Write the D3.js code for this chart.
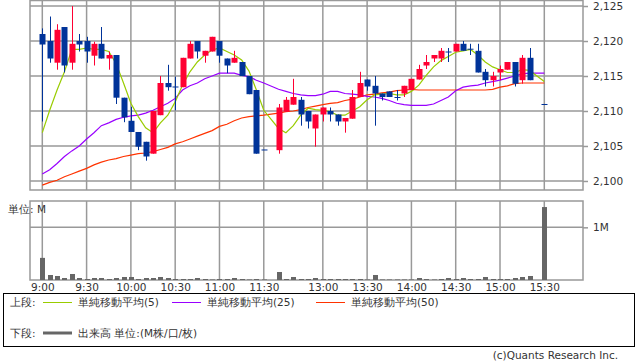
<!DOCTYPE html>
<html>
<head>
<meta charset="utf-8">
<script src="https://d3js.org/d3.v7.min.js"></script>
<style>
  body { margin: 0; background: #fff; }
  text { font-family: "DejaVu Sans", sans-serif; fill: #333; }
</style>
</head>
<body>
<script>
// 5-minute slots, with one empty slot for the lunch break
var slots = ["9:00","9:05","9:10","9:15","9:20","9:25","9:30","9:35","9:40","9:45","9:50","9:55",
  "10:00","10:05","10:10","10:15","10:20","10:25","10:30","10:35","10:40","10:45","10:50","10:55",
  "11:00","11:05","11:10","11:15","11:20","11:25","11:30","lunch",
  "12:30","12:35","12:40","12:45","12:50","12:55","13:00","13:05","13:10","13:15","13:20","13:25",
  "13:30","13:35","13:40","13:45","13:50","13:55","14:00","14:05","14:10","14:15","14:20","14:25",
  "14:30","14:35","14:40","14:45","14:50","14:55","15:00","15:05","15:10","15:15","15:20","15:25","15:30"];

var xLabels = ["9:00","9:30","10:00","10:30","11:00","11:30","13:00","13:30","14:00","14:30","15:00","15:30"];
var priceTicks = [2100, 2105, 2110, 2115, 2120, 2125];

// candles (null = no trade in slot)
var open  = [2121.0,2120.0,2116.9,2122.0,2116.9,2120.0,2120.0,2117.9,2119.6,2117.5,2118.0,2111.9,
  2108.6,2107.0,2105.6,2103.9,2109.4,2114.0,2113.5,2113.4,2117.5,2120.0,2117.9,2118.5,
  2120.0,2117.5,2116.9,2117.0,2115.0,2113.0,2104.5,null,
  2104.4,2109.9,2110.9,2111.6,2110.0,2107.5,2109.5,2110.0,2109.5,2108.5,2108.9,2112.0,
  2114.5,2113.6,2112.5,2112.8,2112.0,2112.5,2113.0,2114.5,2116.5,2117.5,2117.5,2118.5,
  2118.5,2119.6,2118.9,2118.6,2115.6,2114.4,2115.5,2115.9,2117.0,2114.4,2117.6,null,2111.0];
var high  = [2121.8,2123.5,2122.4,2122.0,2125.0,2121.0,2120.6,2119.9,2122.0,2118.5,2118.0,2111.9,
  2110.6,2107.0,2105.6,2110.0,2115.0,2116.6,2114.9,2117.6,2120.0,2120.0,2118.6,2120.6,
  2120.0,2117.5,2118.6,2117.0,2115.0,2113.0,2104.5,null,
  2111.0,2112.0,2114.6,2112.0,2110.0,2109.5,2110.5,2110.5,2109.5,2109.0,2113.0,2115.6,
  2114.5,2115.0,2112.5,2112.8,2113.0,2113.6,2114.6,2116.6,2118.0,2118.0,2119.0,2119.0,
  2119.6,2120.0,2119.6,2119.6,2116.0,2115.6,2116.5,2117.0,2117.0,2118.0,2119.0,null,2111.0];
var low   = [2108.5,2116.9,2115.9,2115.5,2115.9,2118.5,2116.9,2116.5,2117.5,2115.9,2111.0,2108.4,
  2107.0,2104.4,2102.9,2103.9,2109.4,2112.9,2110.1,2113.4,2117.5,2117.5,2116.9,2118.5,
  2116.9,2115.4,2116.9,2115.0,2112.4,2103.9,2104.5,null,
  2103.9,2109.9,2110.9,2107.9,2107.5,2104.9,2108.5,2108.5,2107.9,2106.9,2108.9,2112.0,
  2112.9,2107.9,2111.5,2112.0,2111.5,2112.0,2113.0,2114.5,2116.0,2117.0,2117.0,2117.0,
  2118.5,2118.6,2118.0,2115.5,2113.5,2113.5,2114.4,2115.9,2113.5,2113.9,2114.4,null,2111.0];
var close = [2119.5,2117.5,2121.6,2116.5,2119.6,2119.5,2118.5,2119.6,2117.5,2118.0,2111.9,2109.1,
  2107.0,2104.9,2103.5,2110.0,2114.0,2113.4,2113.5,2117.6,2119.6,2118.5,2118.6,2120.6,
  2117.9,2116.5,2117.6,2115.0,2112.4,2103.9,2104.5,null,
  2110.5,2111.6,2112.0,2109.5,2108.5,2109.5,2110.5,2109.5,2108.5,2109.0,2112.0,2114.0,
  2113.5,2112.5,2112.0,2112.0,2112.0,2113.6,2114.6,2116.0,2117.0,2118.0,2118.6,2118.5,
  2119.6,2118.6,2118.9,2115.5,2114.4,2115.0,2116.0,2117.0,2113.9,2117.6,2114.4,null,2111.0];

// volume, millions
var volume = [0.42,0.095,0.076,0.038,0.114,0.038,0.019,0.038,0.038,0.019,0.038,0.057,
  0.057,0.019,0.038,0.038,0.057,0.038,0.019,0.019,0.019,0.038,0.019,0.01,
  0.019,0.019,0.038,0.019,0.01,0.019,0.01,null,
  0.152,0.019,0.057,0.019,0.019,0.038,0.019,0.019,0.019,0.019,0.019,0.019,
  0.01,0.095,0.01,0.01,0.01,0.01,0.01,0.038,0.019,0.01,0.019,0.038,
  0.019,0.038,0.019,0.019,0.057,0.019,0.019,0.019,0.038,0.057,0.076,null,1.385];

// simple moving averages
var ma5  = [2106.9,2110.1,2113.0,2115.6,2118.8,2118.8,2119.0,2118.8,2118.8,2118.5,2116.8,2114.0,
  2111.1,2109.2,2107.6,2106.9,2108.3,2109.4,2111.3,2113.7,2115.6,2117.0,2118.0,2118.7,
  2119.0,2118.5,2118.0,2117.3,2115.7,2113.0,2110.1,null,
  2107.5,2106.9,2107.9,2109.4,2110.4,2110.2,2110.1,2109.9,2109.4,2109.4,2110.0,2110.6,
  2111.6,2112.3,2112.4,2112.5,2112.3,2112.3,2112.8,2113.7,2115.1,2116.3,2117.2,2117.8,
  2118.4,2118.6,2118.8,2118.0,2117.0,2116.3,2115.9,2115.5,2115.5,2115.9,2115.8,null,2114.2];
var ma25 = [2101.0,2101.6,2102.5,2103.5,2104.3,2105.0,2106.0,2106.9,2107.9,2108.3,2108.8,2109.1,
  2109.3,2109.4,2109.7,2110.1,2110.6,2111.1,2111.8,2113.0,2113.6,2114.0,2114.6,2115.0,
  2115.4,2115.4,2115.4,2115.1,2114.9,2114.4,2114.0,null,
  2113.1,2112.8,2112.5,2112.3,2112.2,2112.2,2112.4,2112.8,2112.8,2112.5,2112.4,2112.3,
  2112.1,2112.0,2111.8,2111.5,2111.1,2110.9,2110.8,2110.8,2110.8,2111.0,2111.5,2112.0,
  2112.9,2113.4,2113.6,2113.7,2114.0,2114.2,2114.4,2114.7,2115.0,2115.3,2115.4,null,2115.4];
var ma50 = [2099.4,2099.8,2100.1,2100.6,2101.0,2101.4,2101.8,2102.3,2102.7,2103.0,2103.2,2103.5,
  2103.7,2103.9,2104.0,2104.2,2104.5,2104.8,2105.3,2105.6,2106.0,2106.4,2106.8,2107.2,
  2107.8,2108.1,2108.6,2109.0,2109.2,2109.3,2109.4,null,
  2109.7,2109.9,2110.0,2110.2,2110.5,2110.7,2110.9,2111.1,2111.2,2111.5,2111.7,2112.0,
  2112.3,2112.4,2112.6,2112.7,2112.9,2113.0,2113.1,2113.0,2113.0,2113.0,2113.0,2113.0,
  2113.0,2113.0,2113.0,2113.0,2113.0,2113.1,2113.4,2113.6,2113.9,2114.0,2114.0,null,2114.0];

var upColor = "#ff0033", downColor = "#003399", gridColor = "#999";

var svg = d3.select("body").append("svg")
    .attr("width", 638)
    .attr("height", 362);

var left = 30, right = 583;
var x = d3.scalePoint().domain(slots).range([42.3, 544.3]);
var y = d3.scaleLinear().domain([2098.71, 2125.86]).range([190, 0]);
var yv = d3.scaleLinear().domain([0, 1.5]).range([280, 201]);

var data = slots.map(function(s, i) {
  return {t: s, o: open[i], h: high[i], l: low[i], c: close[i], v: volume[i]};
}).filter(function(d) { return d.o != null; });

// ---- price panel grid
var grid = svg.append("g").attr("stroke", gridColor).attr("stroke-width", 1.5).attr("fill", "none");
grid.selectAll("line.h").data(priceTicks).enter().append("line")
    .attr("x1", left).attr("x2", right)
    .attr("y1", function(d) { return y(d); }).attr("y2", function(d) { return y(d); });
grid.selectAll("line.v").data(xLabels).enter().append("line")
    .attr("x1", function(d) { return x(d); }).attr("x2", function(d) { return x(d); })
    .attr("y1", 0).attr("y2", 190);
grid.append("rect").attr("x", left).attr("y", 0.5).attr("width", right - left).attr("height", 189.5);

// right axis
var yAxis = svg.append("g")
    .attr("transform", "translate(" + right + ",0)")
    .call(d3.axisRight(y).tickValues(priceTicks).tickSize(5).tickPadding(5).tickFormat(d3.format(",")));
yAxis.select(".domain").remove();
yAxis.selectAll("line").attr("stroke", gridColor).attr("stroke-width", 1.5);
yAxis.selectAll("text").style("font-size", "10.5px").attr("fill", "#333");

// MA lines
function maLine(vals, color) {
  var pts = slots.map(function(s, i) { return [s, vals[i]]; }).filter(function(d) { return d[1] != null; });
  svg.append("path")
    .datum(pts)
    .attr("fill", "none")
    .attr("stroke", color)
    .attr("stroke-width", 1.2)
    .attr("d", d3.line().x(function(d) { return x(d[0]); }).y(function(d) { return y(d[1]); }));
}
maLine(ma50, "#ff3300");
maLine(ma25, "#9900ff");
maLine(ma5, "#99cc00");

// candles
var candle = svg.append("g").selectAll("g").data(data).enter().append("g");
candle.append("line")
    .attr("x1", function(d) { return Math.round(x(d.t)) + 0.5; })
    .attr("x2", function(d) { return Math.round(x(d.t)) + 0.5; })
    .attr("y1", function(d) { return y(d.h); })
    .attr("y2", function(d) { return y(d.l); })
    .attr("stroke", function(d) { return d.c > d.o ? upColor : downColor; })
    .attr("stroke-width", 1);
candle.append("rect")
    .attr("x", function(d) { return Math.round(x(d.t)) - 2.5; })
    .attr("width", 6)
    .attr("y", function(d) { return y(Math.max(d.o, d.c)); })
    .attr("height", function(d) { return Math.max(1, y(Math.min(d.o, d.c)) - y(Math.max(d.o, d.c))); })
    .attr("fill", function(d) { return d.c > d.o ? upColor : downColor; });

// ---- volume panel
var vgrid = svg.append("g").attr("stroke", gridColor).attr("stroke-width", 1.5).attr("fill", "none");
vgrid.append("line").attr("x1", left).attr("x2", right).attr("y1", yv(1)).attr("y2", yv(1));
vgrid.selectAll("line.v").data(xLabels).enter().append("line")
    .attr("x1", function(d) { return x(d); }).attr("x2", function(d) { return x(d); })
    .attr("y1", 201).attr("y2", 280);
vgrid.append("rect").attr("x", left).attr("y", 201).attr("width", right - left).attr("height", 79);

svg.append("g").selectAll("rect").data(data).enter().append("rect")
    .attr("x", function(d) { return Math.round(x(d.t)) - 2; })
    .attr("width", 5)
    .attr("y", function(d) { return yv(d.v); })
    .attr("height", function(d) { return yv(0) - yv(d.v); })
    .attr("fill", "#666");

var vAxis = svg.append("g")
    .attr("transform", "translate(" + right + ",0)")
    .call(d3.axisRight(yv).tickValues([1]).tickSize(5).tickPadding(5).tickFormat(function(d) { return d + "M"; }));
vAxis.select(".domain").remove();
vAxis.selectAll("line").attr("stroke", gridColor).attr("stroke-width", 1.5);
vAxis.selectAll("text").style("font-size", "10.5px").attr("fill", "#333");

svg.append("text").attr("x", 8).attr("y", 213).style("font-size", "10.5px").text("単位: M");

// x labels
var xAxis = svg.append("g")
    .attr("transform", "translate(0,280)")
    .call(d3.axisBottom(x).tickValues(xLabels).tickSize(0).tickPadding(4));
xAxis.select(".domain").remove();
xAxis.selectAll("text").style("font-size", "10.5px").attr("fill", "#333");

// ---- legend box
var lg = svg.append("g");
lg.append("rect").attr("x", 3.5).attr("y", 293.5).attr("width", 631).attr("height", 53)
    .attr("fill", "none").attr("stroke", "#000");
var legendItems = [
  {label: "単純移動平均(5)", color: "#99cc00", x: 43},
  {label: "単純移動平均(25)", color: "#9900ff", x: 172},
  {label: "単純移動平均(50)", color: "#ff3300", x: 316}
];
lg.append("text").attr("x", 10).attr("y", 306).style("font-size", "10.5px").text("上段:");
legendItems.forEach(function(d) {
  lg.append("line").attr("x1", d.x).attr("x2", d.x + 29).attr("y1", 302.5).attr("y2", 302.5)
    .attr("stroke", d.color).attr("stroke-width", 1);
  lg.append("text").attr("x", d.x + 35).attr("y", 306).style("font-size", "10.5px").text(d.label);
});
lg.append("text").attr("x", 10).attr("y", 337).style("font-size", "10.5px").text("下段:");
lg.append("line").attr("x1", 43).attr("x2", 72).attr("y1", 333).attr("y2", 333)
    .attr("stroke", "#666").attr("stroke-width", 3);
lg.append("text").attr("x", 78).attr("y", 337).style("font-size", "10.5px").text("出来高 単位:(M株/口/枚)");

svg.append("text").attr("x", 618).attr("y", 359).attr("text-anchor", "end")
    .style("font-size", "10.5px").attr("fill", "#555").text("(c)Quants Research Inc.");
</script>
</body>
</html>
